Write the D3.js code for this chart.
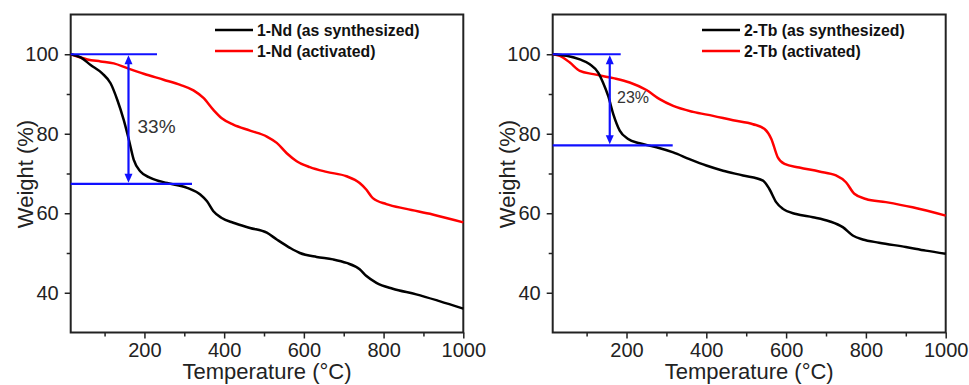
<!DOCTYPE html>
<html lang="en">
<head>
<meta charset="utf-8">
<title>TGA curves</title>
<script src="https://cdn.jsdelivr.net/npm/d3@7"></script>
<style>
  * { margin: 0; padding: 0; }
  body { background: #fff; overflow: hidden; }
  svg { display: block; font-family: "Liberation Sans", Arial, sans-serif; }
  .tick text { font-size: 20px; fill: #222; }
  .axis-title { font-size: 22px; fill: #222; }
  .legend-text { font-size: 15.8px; font-weight: 700; fill: #111; }
  .pct { fill: #333; }
</style>
</head>
<body>
<svg id="chart" width="969" height="385"></svg>
<script>
// temperatures (°C) and weights (%)
const ndTempBlack = [15, 40, 65, 94, 115, 132, 148, 161, 173, 190, 215, 257, 307, 340, 357, 373, 394, 423, 465, 507, 532, 565, 590, 632, 673, 707, 740, 757, 782, 823, 882, 940, 1000];
const ndBlack = [100, 99.2, 97.3, 95.2, 92.7, 88.5, 83.5, 78.5, 73.5, 70.5, 68.9, 67.6, 66.4, 64.7, 63, 60.5, 58.8, 57.6, 56.3, 55.1, 53.4, 51.3, 50, 49, 48.4, 47.5, 45.9, 44.2, 42.5, 41, 39.6, 37.9, 36];
const ndTempRed = [15, 57, 90, 123, 157, 198, 248, 290, 323, 348, 373, 394, 423, 465, 507, 532, 557, 582, 615, 657, 707, 740, 757, 773, 807, 857, 923, 1000];
const ndRed = [100, 98.7, 98.2, 97.7, 96.5, 95.1, 93.6, 92.3, 90.9, 89, 86, 83.9, 82.3, 80.8, 79.3, 77.7, 75.1, 73.1, 71.6, 70.4, 69.3, 67.6, 65.9, 63.8, 62.3, 61.1, 59.7, 57.7];

const tbTempBlack = [15, 50, 83, 108, 129, 141, 154, 167, 183, 204, 233, 275, 317, 358, 400, 442, 492, 542, 558, 575, 592, 625, 667, 708, 742, 767, 792, 833, 900, 950, 1000];
const tbBlack = [100, 99.6, 98.7, 97.5, 95.4, 92.9, 89.5, 84.9, 80.8, 78.7, 77.6, 76.6, 75.3, 73.6, 72, 70.7, 69.5, 68.2, 66.1, 62.8, 61.1, 59.8, 59, 58, 56.5, 54.4, 53.4, 52.6, 51.5, 50.6, 49.8];
const tbTempRed = [15, 33, 58, 83, 117, 167, 208, 250, 283, 317, 367, 417, 467, 517, 546, 563, 579, 596, 633, 683, 725, 750, 771, 800, 850, 917, 1000];
const tbRed = [100, 99.6, 97.9, 95.8, 95, 94, 92.9, 91, 88.7, 87, 85.5, 84.5, 83.4, 82.4, 81.2, 78.7, 74.1, 72.4, 71.5, 70.5, 69.5, 67.8, 64.9, 63.6, 62.8, 61.5, 59.4];

const xTicks = [200, 400, 600, 800, 1000];
const xMinor = [100, 300, 500, 700, 900];
const yTicks = [40, 60, 80, 100];
const yMinor = [50, 70, 90];

const ndLabels = ["1-Nd (as synthesized)", "1-Nd (activated)"];
const tbLabels = ["2-Tb (as synthesized)", "2-Tb (activated)"];

const svg = d3.select("#chart");

function drawPanel(p) {
  const x = d3.scaleLinear().domain([15, 1000]).range([p.left, p.right]);
  const y = d3.scaleLinear().domain([30, 110]).range([332.5, 14.5]);
  const g = svg.append("g");

  // minor ticks
  g.append("g").attr("transform", "translate(0,332.5)")
    .call(d3.axisBottom(x).tickValues(xMinor).tickSize(4).tickFormat(""))
    .call(a => a.select(".domain").remove())
    .selectAll("line").attr("stroke", "#222").attr("stroke-width", 1.5);
  g.append("g").attr("transform", `translate(${p.left},0)`)
    .call(d3.axisLeft(y).tickValues(yMinor).tickSize(4).tickFormat(""))
    .call(a => a.select(".domain").remove())
    .selectAll("line").attr("stroke", "#222").attr("stroke-width", 1.5);

  // major ticks
  const xa = g.append("g").attr("transform", "translate(0,332.5)")
    .call(d3.axisBottom(x).tickValues(xTicks).tickFormat(d3.format("d")).tickSize(6).tickPadding(4));
  xa.select(".domain").remove();
  xa.selectAll("line").attr("stroke", "#222").attr("stroke-width", 1.5);
  xa.selectAll("text").attr("font-family", null).attr("font-size", null);

  const ya = g.append("g").attr("transform", `translate(${p.left},0)`)
    .call(d3.axisLeft(y).tickValues(yTicks).tickFormat(d3.format("d")).tickSize(6).tickPadding(6));
  ya.select(".domain").remove();
  ya.selectAll("line").attr("stroke", "#222").attr("stroke-width", 1.5);
  ya.selectAll("text").attr("font-family", null).attr("font-size", null);

  // frame
  g.append("rect")
    .attr("x", p.left).attr("y", 14.5)
    .attr("width", p.right - p.left).attr("height", 318)
    .attr("fill", "none").attr("stroke", "#222").attr("stroke-width", 2);

  const line = d3.line().curve(d3.curveMonotoneX)
    .x(d => x(d[0])).y(d => y(d[1]));

  g.append("path").datum(d3.zip(p.tRed, p.red))
    .attr("d", line).attr("fill", "none").attr("stroke", "#ff0000").attr("stroke-width", 2.5);
  g.append("path").datum(d3.zip(p.tBlack, p.black))
    .attr("d", line).attr("fill", "none").attr("stroke", "#000").attr("stroke-width", 2.5);

  // weight loss annotation
  const blue = "#1010ff";
  g.append("line").attr("x1", p.left).attr("x2", p.topEnd)
    .attr("y1", y(100)).attr("y2", y(100)).attr("stroke", blue).attr("stroke-width", 2.2);
  g.append("line").attr("x1", p.left).attr("x2", p.lowEnd)
    .attr("y1", y(p.low)).attr("y2", y(p.low)).attr("stroke", blue).attr("stroke-width", 2.2);
  const ax = x(p.arrowT);
  g.append("line").attr("x1", ax).attr("x2", ax)
    .attr("y1", y(100) + 6).attr("y2", y(p.low) - 6).attr("stroke", blue).attr("stroke-width", 2.2);
  g.append("path")
    .attr("d", `M${ax},${y(100) + 1}L${ax - 4},${y(100) + 10}L${ax + 4},${y(100) + 10}Z`)
    .attr("fill", blue);
  g.append("path")
    .attr("d", `M${ax},${y(p.low) - 1}L${ax - 4},${y(p.low) - 10}L${ax + 4},${y(p.low) - 10}Z`)
    .attr("fill", blue);
  g.append("text").attr("class", "pct")
    .attr("x", p.pctX).attr("y", p.pctY)
    .attr("font-size", p.pctSize)
    .text(p.pct);

  // legend
  const colors = ["#000", "#ff0000"];
  p.labels.forEach((lab, i) => {
    const ly = 30 + i * 21;
    g.append("line").attr("x1", p.legX).attr("x2", p.legX + 38)
      .attr("y1", ly).attr("y2", ly).attr("stroke", colors[i]).attr("stroke-width", 2.5);
    g.append("text").attr("class", "legend-text")
      .attr("x", p.legX + 42).attr("y", ly + 5.5).text(lab);
  });

  // axis titles
  g.append("text").attr("class", "axis-title")
    .attr("text-anchor", "middle")
    .attr("x", (p.left + p.right) / 2).attr("y", 379)
    .text("Temperature (°C)");
  g.append("text").attr("class", "axis-title")
    .attr("text-anchor", "middle")
    .attr("transform", `translate(${p.left - 38},174) rotate(-90)`)
    .text("Weight (%)");
}

drawPanel({
  left: 70.7, right: 463.3,
  tBlack: ndTempBlack, black: ndBlack, tRed: ndTempRed, red: ndRed,
  low: 67.4, arrowT: 160, topEnd: 157, lowEnd: 192,
  pct: "33%", pctX: 137.5, pctY: 132.7, pctSize: 19,
  labels: ndLabels, legX: 215
});

drawPanel({
  left: 552.7, right: 945.7,
  tBlack: tbTempBlack, black: tbBlack, tRed: tbTempRed, red: tbRed,
  low: 77.1, arrowT: 158, topEnd: 620.7, lowEnd: 672.7,
  pct: "23%", pctX: 617, pctY: 102.7, pctSize: 16,
  labels: tbLabels, legX: 702
});
</script>
</body>
</html>
